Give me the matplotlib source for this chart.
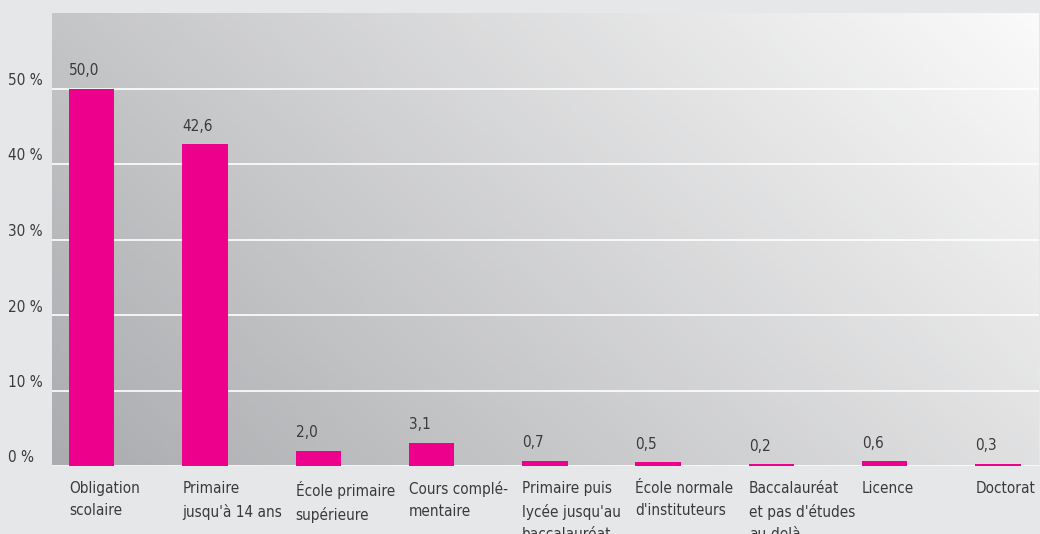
import numpy as np
import matplotlib.pyplot as plt
from matplotlib.colors import LinearSegmentedColormap
import matplotlib.transforms as mtransforms

plt.rcParams['font.family'] = ['DejaVu Sans']
plt.rcParams['font.stretch'] = 'condensed'

# Niveau d'études
categories = ["Obligation\nscolaire", "Primaire\njusqu'à 14 ans", "École primaire\nsupérieure",
              "Cours complé-\nmentaire", "Primaire puis\nlycée jusqu'au\nbaccalauréat",
              "École normale\nd'instituteurs", "Baccalauréat\net pas d'études\nau-delà",
              "Licence", "Doctorat"]
values = [50.0, 42.6, 2.0, 3.1, 0.7, 0.5, 0.2, 0.6, 0.3]
yticks = [0, 10, 20, 30, 40, 50]

pink = "#ec008c"
txt = "#3a3a3a"

fig = plt.figure(figsize=(10.4, 5.34), dpi=100)
fig.patch.set_facecolor("#e6e7e8")
ax = fig.add_axes([52 / 1040, 68 / 534, 987 / 1040, 453 / 534])

# fond dégradé en diagonale (plus clair en haut à droite)
nx, ny = 200, 100
gx, gy = np.meshgrid(np.linspace(0, 1, nx), np.linspace(0, 1, ny))
grad = (53 * gx + 26 * gy) / 79
cmap = LinearSegmentedColormap.from_list("fond", ["#abacaf", "#fafafa"])
ax.imshow(grad, cmap=cmap, extent=[0, 1, 0, 1], origin="lower", aspect="auto",
          transform=ax.transAxes, zorder=0)

x = np.arange(len(values))
ax.bar(x, values, width=0.4, align="edge", color=pink, zorder=3)

fs = 11
for xi, v in zip(x, values):
    ax.text(xi, v + 1.4, f"{v:.1f}".replace(".", ","), ha="left", va="bottom",
            fontsize=fs, color=txt, zorder=4)
    ax.text(xi, -2.0, categories[xi], ha="left", va="top", fontsize=fs,
            color=txt, linespacing=1.6, clip_on=False)

ax.set_xlim(-0.15, -0.15 + 987 / 113.3)
ax.set_ylim(0, 60)
ax.set_yticks(yticks)
ax.set_xticks([])
ax.tick_params(axis="y", length=0, labelleft=False)

# étiquettes de l'axe y alignées à gauche, un peu au-dessus des lignes
lab_tr = mtransforms.blended_transform_factory(fig.transFigure, ax.transData)
lab_tr = lab_tr + mtransforms.ScaledTranslation(0, 8 / 100, fig.dpi_scale_trans)
for t in yticks:
    fig.text(8 / 1040, t, f"{t} %", transform=lab_tr, ha="left", va="center",
             fontsize=fs, color=txt)

ax.yaxis.grid(True, color="white", linewidth=1.2, zorder=1)
ax.set_axisbelow(True)
for s in ax.spines.values():
    s.set_visible(False)

fig.savefig("out.png", dpi=100, facecolor=fig.get_facecolor())
